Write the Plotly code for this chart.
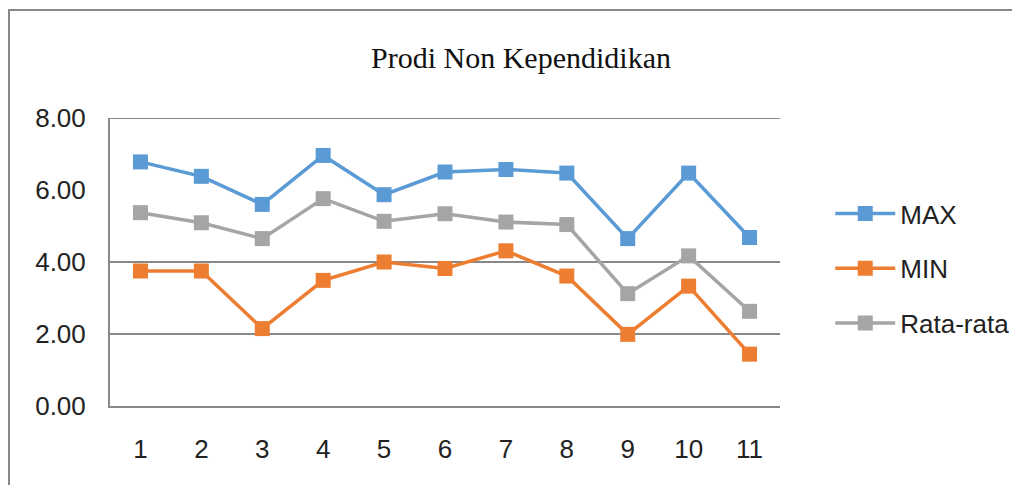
import plotly.graph_objects as go

categories = ["1", "2", "3", "4", "5", "6", "7", "8", "9", "10", "11"]
max_vals = [6.78, 6.38, 5.60, 6.96, 5.87, 6.50, 6.57, 6.47, 4.65, 6.47, 4.68]
min_vals = [3.75, 3.75, 2.15, 3.49, 4.00, 3.82, 4.31, 3.61, 1.99, 3.33, 1.44]
avg_vals = [5.37, 5.09, 4.65, 5.76, 5.13, 5.34, 5.11, 5.04, 3.12, 4.17, 2.63]
tick_vals = [0, 2, 4, 6, 8]
tick_text = ["0.00", "2.00", "4.00", "6.00", "8.00"]
grid_vals = [2, 4, 8]

series = [("MAX", max_vals, "#5B9BD5"), ("MIN", min_vals, "#ED7D31"), ("Rata-rata", avg_vals, "#A5A5A5")]

fig = go.Figure()
xs = list(range(1, len(categories) + 1))
for i, (name, vals, color) in enumerate(series):
    fig.add_trace(go.Scatter(
        x=xs, y=vals, name=name, mode="lines+markers",
        line=dict(color=color, width=3.5),
        marker=dict(symbol="square", size=15, color=color),
        legendgroup=f"g{i}",
    ))

shapes = [dict(type="line", xref="paper", yref="y", x0=0, x1=1, y0=g, y1=g,
               line=dict(color="#888888", width=2), layer="below") for g in grid_vals]
shapes.append(dict(type="rect", xref="paper", yref="paper",
                   x0=(1 - 102) / 670, x1=(1030 - 102) / 670,
                   y0=(398 - 520) / 288, y1=(398 - 2) / 288,
                   line=dict(color="#888888", width=2), layer="below"))

font_lbl = "Liberation Sans, Arial, sans-serif"

fig.update_layout(
    width=1020, height=485,
    margin=dict(l=102, r=248, t=110, b=87),
    paper_bgcolor="white", plot_bgcolor="white",
    title=dict(text="Prodi Non Kependidikan", x=513 / 1020, xref="container", xanchor="center",
               y=1 - 49 / 485, yanchor="middle",
               font=dict(family="Liberation Serif, Times New Roman, serif", size=30, color="#111111")),
    xaxis=dict(range=[0.5, 11.5], tickvals=xs, ticktext=categories, showgrid=False,
               showline=True, linecolor="#888888", linewidth=2, ticks="",
               ticklabelstandoff=19,
               tickfont=dict(family=font_lbl, size=26, color="#222222"), zeroline=False),
    yaxis=dict(range=[0, 8], tickvals=tick_vals, ticktext=tick_text, showgrid=False,
               showline=True, linecolor="#888888", linewidth=2, ticks="",
               ticklabelstandoff=17,
               tickfont=dict(family=font_lbl, size=26, color="#222222"), zeroline=False),
    legend=dict(x=1.075, y=0.75, xanchor="left", yanchor="top",
                font=dict(family=font_lbl, size=26, color="#222222"),
                tracegroupgap=18, itemwidth=60, bgcolor="rgba(0,0,0,0)"),
    shapes=shapes,
)

fig.write_html("out.html")
